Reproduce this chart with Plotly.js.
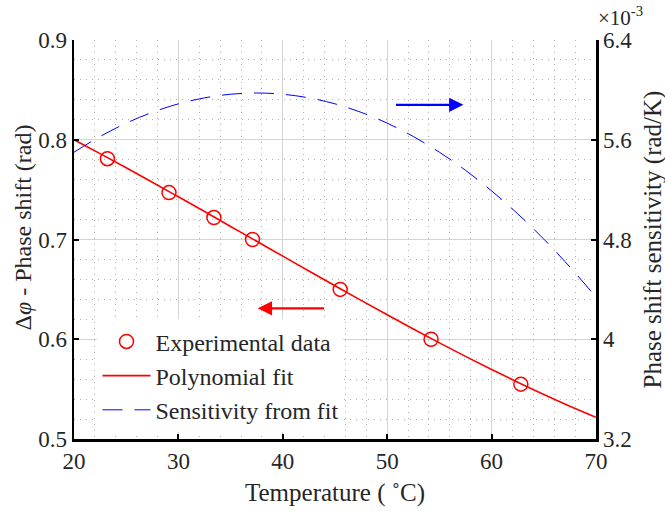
<!DOCTYPE html>
<html>
<head>
<meta charset="utf-8">
<script src="https://cdn.plot.ly/plotly-3.0.1.min.js"></script>
<style>html,body{margin:0;padding:0;background:#fff;}#chart{width:665px;height:515px;}</style>
</head>
<body>
<div id="chart"></div>
<script>
// Experimental data (temperature in °C, phase shift in rad)
var expTemp = [23.2, 29.1, 33.4, 37.1, 45.5, 54.2, 62.8];
var expPhase = [0.781, 0.747, 0.722, 0.700, 0.650, 0.600, 0.555];

// Polynomial fit curve
var fitTemp = [20, 22.5, 25, 27.5, 30, 32.5, 35, 37.5, 40, 42.5, 45, 47.5, 50, 52.5, 55, 57.5, 60, 62.5, 65, 67.5, 70];
var fitPhase = [0.8000, 0.7861, 0.7719, 0.7574, 0.7428, 0.7280, 0.7131, 0.6982, 0.6833, 0.6684, 0.6536,
                0.6390, 0.6245, 0.6103, 0.5964, 0.5828, 0.5697, 0.5569, 0.5446, 0.5329, 0.5218];

// Sensitivity from fit (units of 1e-3 rad/K)
var sensTemp = fitTemp;
var sensVal = [5.500, 5.626, 5.733, 5.820, 5.888, 5.936, 5.965, 5.975, 5.965, 5.936, 5.888,
               5.820, 5.733, 5.626, 5.500, 5.355, 5.190, 5.006, 4.803, 4.580, 4.338];

// Tick labels
var xTicks = [20, 30, 40, 50, 60, 70];
var yTicks = [0.5, 0.6, 0.7, 0.8, 0.9];
var yTickText = ['0.5', '0.6', '0.7', '0.8', '0.9'];
var y2Ticks = [3.2, 4.0, 4.8, 5.6, 6.4];
var y2TickText = ['3.2', '4', '4.8', '5.6', '6.4'];

// Titles
var xTitle = 'Temperature ( ˚C)';
var yTitle = 'Δ<i>φ</i> - Phase shift (rad)';
var y2Title = 'Phase shift sensitivity (rad/K)';

var FONT = "'Liberation Serif', 'Times New Roman', serif";
var TXT = '#262626';

var traces = [
  {x: expTemp, y: expPhase, name: 'Experimental data', mode: 'markers', type: 'scatter',
   marker: {symbol: 'circle-open', size: 14, color: '#ff0000', line: {width: 1.5, color: '#ff0000'}}},
  {x: fitTemp, y: fitPhase, name: 'Polynomial fit', mode: 'lines', type: 'scatter',
   line: {color: '#ff0000', width: 1.6, shape: 'spline'}},
  {x: sensTemp, y: sensVal, name: 'Sensitivity from fit', mode: 'lines', type: 'scatter', yaxis: 'y2',
   line: {color: '#0000ff', width: 1, dash: '20px,12px', shape: 'spline'}}
];

var gridMajor = '#d4d4d4';
var gridMinor = '#b0b0b0';

var layout = {
  width: 665, height: 515,
  margin: {l: 74, r: 69, t: 40, b: 76},
  paper_bgcolor: '#fff', plot_bgcolor: '#fff',
  font: {family: FONT, size: 23, color: TXT},
  showlegend: true,
  legend: {x: 0.045, y: 0.30, xanchor: 'left', yanchor: 'top', bgcolor: '#ffffff', borderwidth: 0,
           itemwidth: 48, font: {family: FONT, size: 24, color: TXT}, tracegroupgap: 0},
  xaxis: {
    range: [20, 70], tickvals: xTicks, ticks: 'inside', ticklen: 5, tickwidth: 2, tickcolor: '#000',
    showline: true, linecolor: '#000', linewidth: 2.5, zeroline: false,
    showgrid: true, gridcolor: gridMajor, gridwidth: 1,
    minor: {dtick: 2, showgrid: true, gridcolor: gridMinor, griddash: '1px,5px', gridwidth: 1, ticks: ''},
    tickfont: {family: FONT, size: 23, color: TXT}
  },
  yaxis: {
    range: [0.5, 0.9], tickvals: yTicks, ticktext: yTickText, ticks: 'inside', ticklen: 5, tickwidth: 2, tickcolor: '#000',
    showline: true, linecolor: '#000', linewidth: 2.5, zeroline: false,
    showgrid: true, gridcolor: gridMajor, gridwidth: 1,
    minor: {dtick: 0.02, showgrid: true, gridcolor: gridMinor, griddash: '1px,5px', gridwidth: 1, ticks: ''},
    tickfont: {family: FONT, size: 23, color: TXT}
  },
  yaxis2: {
    overlaying: 'y', side: 'right', range: [3.2, 6.4], tickvals: y2Ticks, ticktext: y2TickText,
    ticks: 'inside', ticklen: 5, tickwidth: 2, tickcolor: '#000',
    showline: true, linecolor: '#000', linewidth: 2.5, zeroline: false, showgrid: false,
    tickfont: {family: FONT, size: 23, color: TXT}
  },
  annotations: [
    {xref: 'paper', yref: 'paper', x: 0.5, y: 0, yanchor: 'middle', xanchor: 'center', yshift: -54,
     text: xTitle, showarrow: false, font: {family: FONT, size: 25, color: TXT}},
    {xref: 'paper', yref: 'paper', x: 0, y: 0.53, xanchor: 'center', yanchor: 'middle', xshift: -51,
     textangle: -90, text: yTitle, showarrow: false, font: {family: FONT, size: 24, color: TXT}},
    {xref: 'paper', yref: 'paper', x: 1, y: 0.5, xanchor: 'center', yanchor: 'middle', xshift: 56,
     textangle: -90, text: y2Title, showarrow: false, font: {family: FONT, size: 25, color: TXT}},
    {xref: 'paper', yref: 'paper', x: 1.0, y: 1.0, xanchor: 'left', yanchor: 'bottom', xshift: 0, yshift: 8,
     text: '×10<sup>-3</sup>', showarrow: false, font: {family: FONT, size: 21, color: TXT}},
    {xref: 'x', yref: 'y', axref: 'x', ayref: 'y', x: 37.6, y: 0.631, ax: 44.1, ay: 0.631,
     showarrow: true, arrowhead: 2, arrowsize: 1.3, arrowwidth: 2.2, arrowcolor: '#ff0000', text: ''},
    {xref: 'x', yref: 'y', axref: 'x', ayref: 'y', x: 57.3, y: 0.835, ax: 50.7, ay: 0.835,
     showarrow: true, arrowhead: 2, arrowsize: 1.3, arrowwidth: 2.2, arrowcolor: '#0000ff', text: ''}
  ]
};

Plotly.newPlot('chart', traces, layout, {displayModeBar: false, staticPlot: true});
</script>
</body>
</html>
